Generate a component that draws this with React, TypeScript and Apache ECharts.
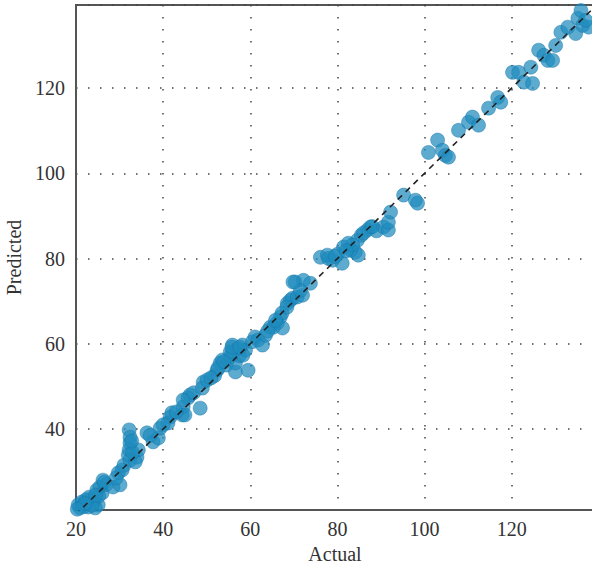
import React, { useEffect, useRef } from "react";
import * as echarts from "echarts";

const actual: number[] = [
  20.5, 21.4, 22.3, 23.2, 24.1, 25.1, 24.4, 22.8, 20.9, 21.8, 23.6, 23.0, 22.0, 20.3,
  24.8, 25.5, 26.2, 26.0, 25.2, 24.5, 27.0, 26.5,
  28.5, 30.1, 29.7, 30.6, 29.2, 31.0,
  32.2, 32.4, 32.4, 32.2, 32.0, 32.4, 34.0, 34.3, 33.6, 33.0, 32.8,
  36.3, 37.7, 38.9, 39.3, 41.6, 41.1, 42.0, 44.6, 44.4, 45.0, 45.7, 46.2, 44.6, 48.5, 47.0, 43.0, 40.0, 37.0,
  49.2, 49.0, 50.1, 53.1, 52.4, 53.6, 51.8, 54.5, 56.6, 55.9, 55.9, 58.2, 58.9, 59.5, 56.6, 57.2, 55.5, 57.5,
  58.3, 55.4, 55.8, 57.6, 52.6, 54.0, 51.0, 60.5, 61.1,
  61.8, 62.8, 63.5, 64.6, 66.2, 67.4, 66.9, 65.3, 68.5, 69.2, 69.7, 70.8, 72.0, 70.3, 72.2, 73.8, 71.5,
  67.3, 68.4, 64.0, 65.8, 69.8,
  76.1, 77.7, 78.9, 81.1, 81.4, 82.5, 84.1, 84.8, 84.6, 83.0, 80.0, 86.9, 87.6, 89.0, 90.6, 91.7, 91.7, 92.2, 85.5,
  78.0, 79.5, 83.5, 82.0, 86.0, 88.0,
  95.2, 97.9, 98.4,
  100.9, 103.0, 104.1, 104.8, 105.5, 107.8, 110.1, 111.0, 112.4, 114.7, 116.8, 117.5,
  120.2, 121.6, 122.8, 124.8, 124.4, 126.2, 127.4, 128.3, 129.4, 130.1, 131.3, 132.9, 134.7, 135.2, 135.9, 136.3, 137.7, 137.0,
];

const predicted: number[] = [
  22.2, 22.9, 23.4, 23.4, 22.9, 22.2, 21.5, 21.7, 21.5, 21.8, 22.1, 24.0, 22.5, 21.2,
  25.7, 26.4, 28.0, 25.0, 24.3, 24.5, 27.0, 27.5,
  26.4, 26.9, 29.7, 30.4, 28.5, 31.5,
  39.8, 38.1, 36.7, 35.1, 33.9, 32.7, 33.4, 35.1, 32.3, 34.5, 37.2,
  39.1, 37.0, 37.9, 40.2, 42.8, 41.4, 43.8, 45.2, 43.3, 43.3, 47.3, 48.0, 46.8, 44.9, 48.5, 44.0, 41.0, 38.5,
  51.0, 49.6, 51.5, 55.5, 53.8, 56.2, 52.5, 55.0, 53.4, 59.7, 58.0, 59.7, 58.5, 53.8, 55.5, 58.8, 57.0, 57.2,
  57.3, 58.1, 59.2, 59.2, 54.3, 55.8, 52.0, 60.5, 61.6,
  60.9, 59.7, 62.0, 63.9, 64.9, 63.7, 66.3, 63.9, 69.5, 70.2, 70.7, 71.0, 71.4, 74.5, 74.9, 74.2, 72.5,
  67.2, 68.6, 63.0, 65.5, 74.5,
  80.3, 80.8, 79.6, 78.9, 82.7, 83.6, 81.5, 80.8, 84.3, 82.0, 81.0, 86.7, 87.4, 86.5, 87.4, 86.7, 88.5, 90.9, 85.5,
  80.0, 80.5, 83.2, 81.8, 86.0, 87.5,
  94.9, 93.7, 93.0,
  104.9, 107.8, 105.4, 104.2, 103.8, 110.1, 112.0, 113.2, 111.3, 115.3, 117.8, 116.7,
  123.7, 123.7, 121.4, 121.1, 124.9, 128.9, 127.7, 126.5, 126.5, 130.0, 133.1, 134.3, 132.8, 136.4, 138.2, 134.7, 134.3, 135.9,
];

const xMin = 20;
const xMax = 138.9;
const yMin = 21;
const yMax = 139.5;
const refLine: number[][] = [
  [0, 0],
  [150, 150],
];

const FONT = "'Liberation Serif', 'DejaVu Serif', serif";

export default function App() {
  const ref = useRef<HTMLDivElement>(null);
  useEffect(() => {
    if (!ref.current) return;
    const chart = echarts.init(ref.current, null, { renderer: "svg" });
    const pts = actual.map((a, i) => [a, predicted[i]]);
    const gridLine = {
      show: true,
      lineStyle: { color: "#444", width: 1.5, type: [1.5, 10.5] as any },
    };
    chart.setOption({
      animation: false,
      backgroundColor: "#fff",
      grid: {
        left: 76,
        top: 5,
        right: -2,
        bottom: 55,
        containLabel: false,
        outerBoundsMode: "none",
        show: true,
        borderColor: "#555",
        borderWidth: 2,
      },
      xAxis: {
        type: "value",
        min: xMin,
        max: xMax,
        interval: 20,
        name: "Actual",
        nameLocation: "middle",
        nameGap: 34,
        nameTextStyle: { fontFamily: FONT, fontSize: 20, color: "#333" },
        axisLine: { show: true, lineStyle: { color: "#555", width: 2 } },
        axisTick: { show: false },
        axisLabel: {
          fontFamily: FONT,
          fontSize: 20,
          color: "#333",
          margin: 9,
          showMaxLabel: false,
        },
        splitLine: gridLine,
      },
      yAxis: {
        type: "value",
        min: yMin,
        max: yMax,
        splitNumber: 5,
        name: "Predicted",
        nameLocation: "middle",
        nameGap: 45,
        nameTextStyle: { fontFamily: FONT, fontSize: 20, color: "#333" },
        axisLine: { show: true, lineStyle: { color: "#555", width: 2 } },
        axisTick: { show: false },
        axisLabel: {
          fontFamily: FONT,
          fontSize: 20,
          color: "#333",
          margin: 11,
          showMinLabel: false,
          showMaxLabel: false,
          formatter: (v: number) => (v % 20 === 0 ? String(v) : ""),
        },
        splitLine: gridLine,
      },
      series: [
        {
          type: "scatter",
          data: pts,
          symbol: "circle",
          symbolSize: 14,
          itemStyle: {
            color: "rgba(30,140,190,0.9)",
            borderColor: "rgba(20,115,165,0.9)",
            borderWidth: 0.6,
          },
          z: 2,
        },
        {
          type: "line",
          data: refLine,
          symbol: "none",
          clip: true,
          lineStyle: { color: "#222", width: 1.6, type: [6, 5] as any },
          z: 3,
        },
      ],
    });
    return () => chart.dispose();
  }, []);
  return (
    <div
      ref={ref}
      style={{ position: "fixed", left: 0, top: 0, width: 592, height: 565 }}
    />
  );
}
